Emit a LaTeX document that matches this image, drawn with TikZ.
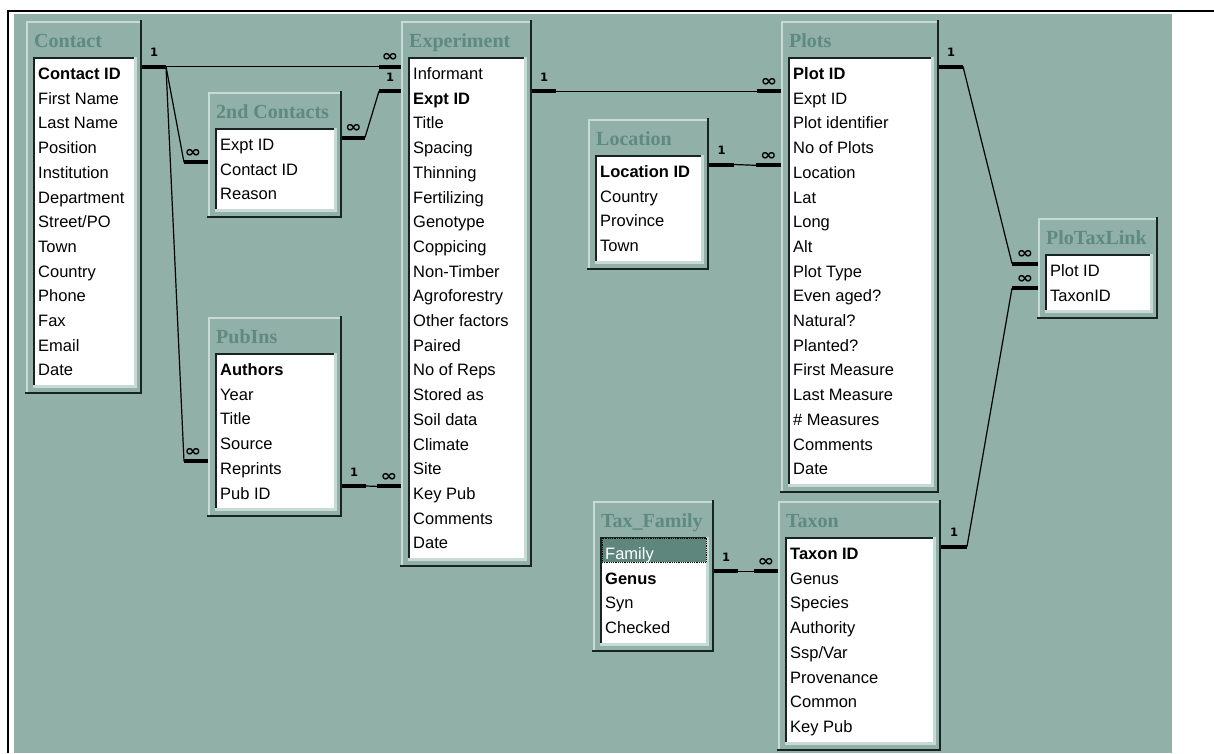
\documentclass[tikz,border=0pt]{standalone}
\usepackage{fontspec}
\usepackage{graphicx}
\setmainfont{Liberation Sans}
\newfontfamily\titlefont{Liberation Serif}
\newfontfamily\symfont{DejaVu Sans}
\usetikzlibrary{calc}
\definecolor{bg}{RGB}{145,176,167}
\definecolor{ttl}{RGB}{94,138,128}
\definecolor{hl}{RGB}{94,134,124}
\definecolor{bevlight}{RGB}{200,218,212}
\definecolor{bevdark}{RGB}{24,36,33}
\tikzset{
  tframe/.style={anchor=north west, fill=bg, inner sep=0pt, outer sep=0pt, draw=none},
  tbox/.style={anchor=north west, fill=white, inner sep=0pt, outer sep=0pt, draw=none},
  hlrow/.style={anchor=north west, fill=hl, draw=black, densely dotted, line width=0.8pt, inner sep=0pt, outer sep=0pt},
  fieldtxt/.style={anchor=base west, inner sep=0pt, font=\fontsize{16.5}{18}\selectfont},
  titletxt/.style={anchor=base west, inner sep=0pt, text=ttl, font=\titlefont\bfseries\fontsize{20}{22}\selectfont},
  stub/.style={line width=4pt, line cap=butt},
  link/.style={line width=1.2pt},
  onelbl/.style={font=\symfont\bfseries\fontsize{11.5}{12}\selectfont, inner sep=0pt},
  manylbl/.style={font=\symfont\bfseries\fontsize{16}{16}\selectfont, inner sep=0pt},
}
\newcommand{\manysym}{\scalebox{1.25}[1]{∞}}
\newcommand{\dbtable}[8]{%
  \pgfmathsetmacro\TBya{#3+36}%
  \pgfmathsetmacro\TByb{#3+36+#5*24.7+7}%
  \pgfmathsetmacro\TByc{\TByb+9}%
  \pgfmathsetmacro\TBxa{#2+7}%
  \pgfmathsetmacro\TBxb{#4-8}%
  \pgfmathsetmacro\TBw{#4-#2}%
  \pgfmathsetmacro\TBh{\TByc-#3}%
  \pgfmathsetmacro\TBbw{\TBxb-\TBxa}%
  \pgfmathsetmacro\TBbh{\TByb-\TBya}%
  \node[tframe, minimum width=\TBw pt, minimum height=\TBh pt] (#1) at (#2,#3) {};
  \draw[bevlight, line width=2pt] ({#2+1},{\TByc-2}) -- ({#2+1},{#3+1}) -- ({#4-2},{#3+1});
  \draw[bevdark, line width=2pt] ({#4-1},{#3-1}) -- ({#4-1},{\TByc-1}) -- ({#2-1},{\TByc-1});
  \node[tbox, minimum width=\TBbw pt, minimum height=\TBbh pt] (#1-box) at (\TBxa,\TBya) {};
  \draw[bevlight, line width=3pt] ({\TBxa},{\TByb+1.5}) -- ({\TBxb+1.5},{\TByb+1.5}) -- ({\TBxb+1.5},{\TBya});
  \draw[bevdark, line width=2pt] ({\TBxa+1},{\TByb}) -- ({\TBxa+1},{\TBya+1}) -- ({\TBxb},{\TBya+1});
  \node[titletxt] (#1-title) at ({#2+8},{#3+26}) {#6};
  #8
  \foreach \f [count=\i] in {#7} {
    \node[fieldtxt] (#1-\i) at ({\TBxa+5},{\TBya+22.5+(\i-1)*24.7}) {\f};
    \coordinate (#1-r\i) at ({\TBxa},{\TBya+9.5+(\i-1)*24.7});
  }
}
\begin{document}
\begin{tikzpicture}[x=1pt, y=-1pt]
\useasboundingbox (0,0) rectangle (1214,753);
\fill[white] (0,0) rectangle (1214,753);
\fill[bg] (14,14) rectangle (1172,753);
\draw[black, line width=2.2pt] (8,753) -- (8,11) -- (1214,11);

\dbtable{contact}{26}{21}{142}{13}{Contact}{{\bfseries Contact ID}, First Name, Last Name, Position, Institution, Department, {Street/PO}, Town, Country, Phone, Fax, Email, Date}{}
\dbtable{seccont}{208}{92}{342}{3}{2nd Contacts}{Expt ID, Contact ID, Reason}{}
\dbtable{pubins}{208}{317}{342}{6}{PubIns}{{\bfseries Authors}, Year, Title, Source, Reprints, Pub ID}{}
\dbtable{experiment}{401}{21}{532}{20}{Experiment}{Informant, {\bfseries Expt ID}, Title, Spacing, Thinning, Fertilizing, Genotype, Coppicing, Non-Timber, Agroforestry, Other factors, Paired, No of Reps, Stored as, Soil data, Climate, Site, Key Pub, Comments, Date}{}
\dbtable{location}{588}{119}{709}{4}{Location}{{\bfseries Location ID}, Country, Province, Town}{}
\dbtable{plots}{781}{21}{939}{17}{Plots}{{\bfseries Plot ID}, Expt ID, Plot identifier, No of Plots, Location, Lat, Long, Alt, Plot Type, Even aged?, Natural?, Planted?, First Measure, Last Measure, \# Measures, Comments, Date}{}
\dbtable{plotax}{1038}{218}{1158}{2}{PloTaxLink}{Plot ID, TaxonID}{}
\dbtable{taxfam}{593}{501}{714}{4}{Tax\_Family}{{\color{white}Family}, {\bfseries Genus}, Syn, Checked}{%
  \pgfmathsetmacro\TBhw{\TBbw-2}%
  \node[hlrow, minimum width=\TBhw pt, minimum height=24pt] (taxfam-hl) at ({\TBxa+2},{\TBya+1}) {};}
\dbtable{taxon}{778}{501}{941}{8}{Taxon}{{\bfseries Taxon ID}, Genus, Species, Authority, {Ssp/Var}, Provenance, Common, Key Pub}{}

% Contact -> Experiment, 2nd Contacts, PubIns
\draw[stub] (contact.east |- contact-r1) -- node[onelbl, above=8pt] (l1a) {1} ++(24,0) coordinate (cA);
\draw[stub] (experiment.west |- experiment-r1) -- node[manylbl, above=3pt] (l1b) {\manysym} ++(-22,0) coordinate (cB);
\draw[link] (cA) -- (cB);
\draw[stub] (seccont.west |- seccont-r2) -- node[manylbl, above=3pt, xshift=-3pt] (l2b) {\manysym} ++(-24,0) coordinate (cC);
\draw[link] (cA) -- (cC);
\draw[stub] (pubins.west |- pubins-r5) -- node[manylbl, above=3pt, xshift=-3pt] (l3b) {\manysym} ++(-24,0) coordinate (cD);
\draw[link] (cA) -- (cD);

% 2nd Contacts -> Experiment
\draw[stub] (seccont.east |- seccont-r1) -- node[manylbl, above=3pt] (l4a) {\manysym} ++(23,0) coordinate (cE);
\draw[stub] (experiment.west |- experiment-r2) -- node[onelbl, above=8pt] (l4b) {1} ++(-22,0) coordinate (cF);
\draw[link] (cE) -- (cF);

% Experiment -> Plots
\draw[stub] (experiment.east |- experiment-r2) -- node[onelbl, above=8pt] (l5a) {1} ++(24,0) coordinate (cG);
\draw[stub] (plots.west |- plots-r2) -- node[manylbl, above=3pt] (l5b) {\manysym} ++(-24,0) coordinate (cH);
\draw[link] (cG) -- (cH);

% Location -> Plots
\draw[stub] (location.east |- location-r1) -- node[onelbl, above=8pt] (l6a) {1} ++(25,0) coordinate (cI);
\draw[stub] (plots.west |- plots-r5) -- node[manylbl, above=3pt] (l6b) {\manysym} ++(-25,0) coordinate (cJ);
\draw[link] (cI) -- (cJ);

% Plots -> PloTaxLink
\draw[stub] (plots.east |- plots-r1) -- node[onelbl, above=8pt] (l7a) {1} ++(24,0) coordinate (cK);
\draw[stub] (plotax.west |- plotax-r1) -- node[manylbl, above=3pt] (l7b) {\manysym} ++(-26,0) coordinate (cL);
\draw[link] (cK) -- (cL);

% Taxon -> PloTaxLink
\draw[stub] (taxon.east |- taxon-r1) -- node[onelbl, above=8pt] (l8a) {1} ++(26,0) coordinate (cM);
\draw[stub] (plotax.west |- plotax-r2) -- node[manylbl, above=3pt] (l8b) {\manysym} ++(-26,0) coordinate (cN);
\draw[link] (cM) -- (cN);

% Tax_Family -> Taxon
\draw[stub] (taxfam.east |- taxfam-r2) -- node[onelbl, above=8pt] (l9a) {1} ++(24,0) coordinate (cO);
\draw[stub] (taxon.west |- taxon-r2) -- node[manylbl, above=3pt] (l9b) {\manysym} ++(-24,0) coordinate (cP);
\draw[link] (cO) -- (cP);

% PubIns -> Experiment
\draw[stub] (pubins.east |- pubins-r6) -- node[onelbl, above=8pt] (l10a) {1} ++(24,0) coordinate (cQ);
\draw[stub] (experiment.west |- experiment-r18) -- node[manylbl, above=3pt] (l10b) {\manysym} ++(-24,0) coordinate (cR);
\draw[link] (cQ) -- (cR);
\end{tikzpicture}
\end{document}
